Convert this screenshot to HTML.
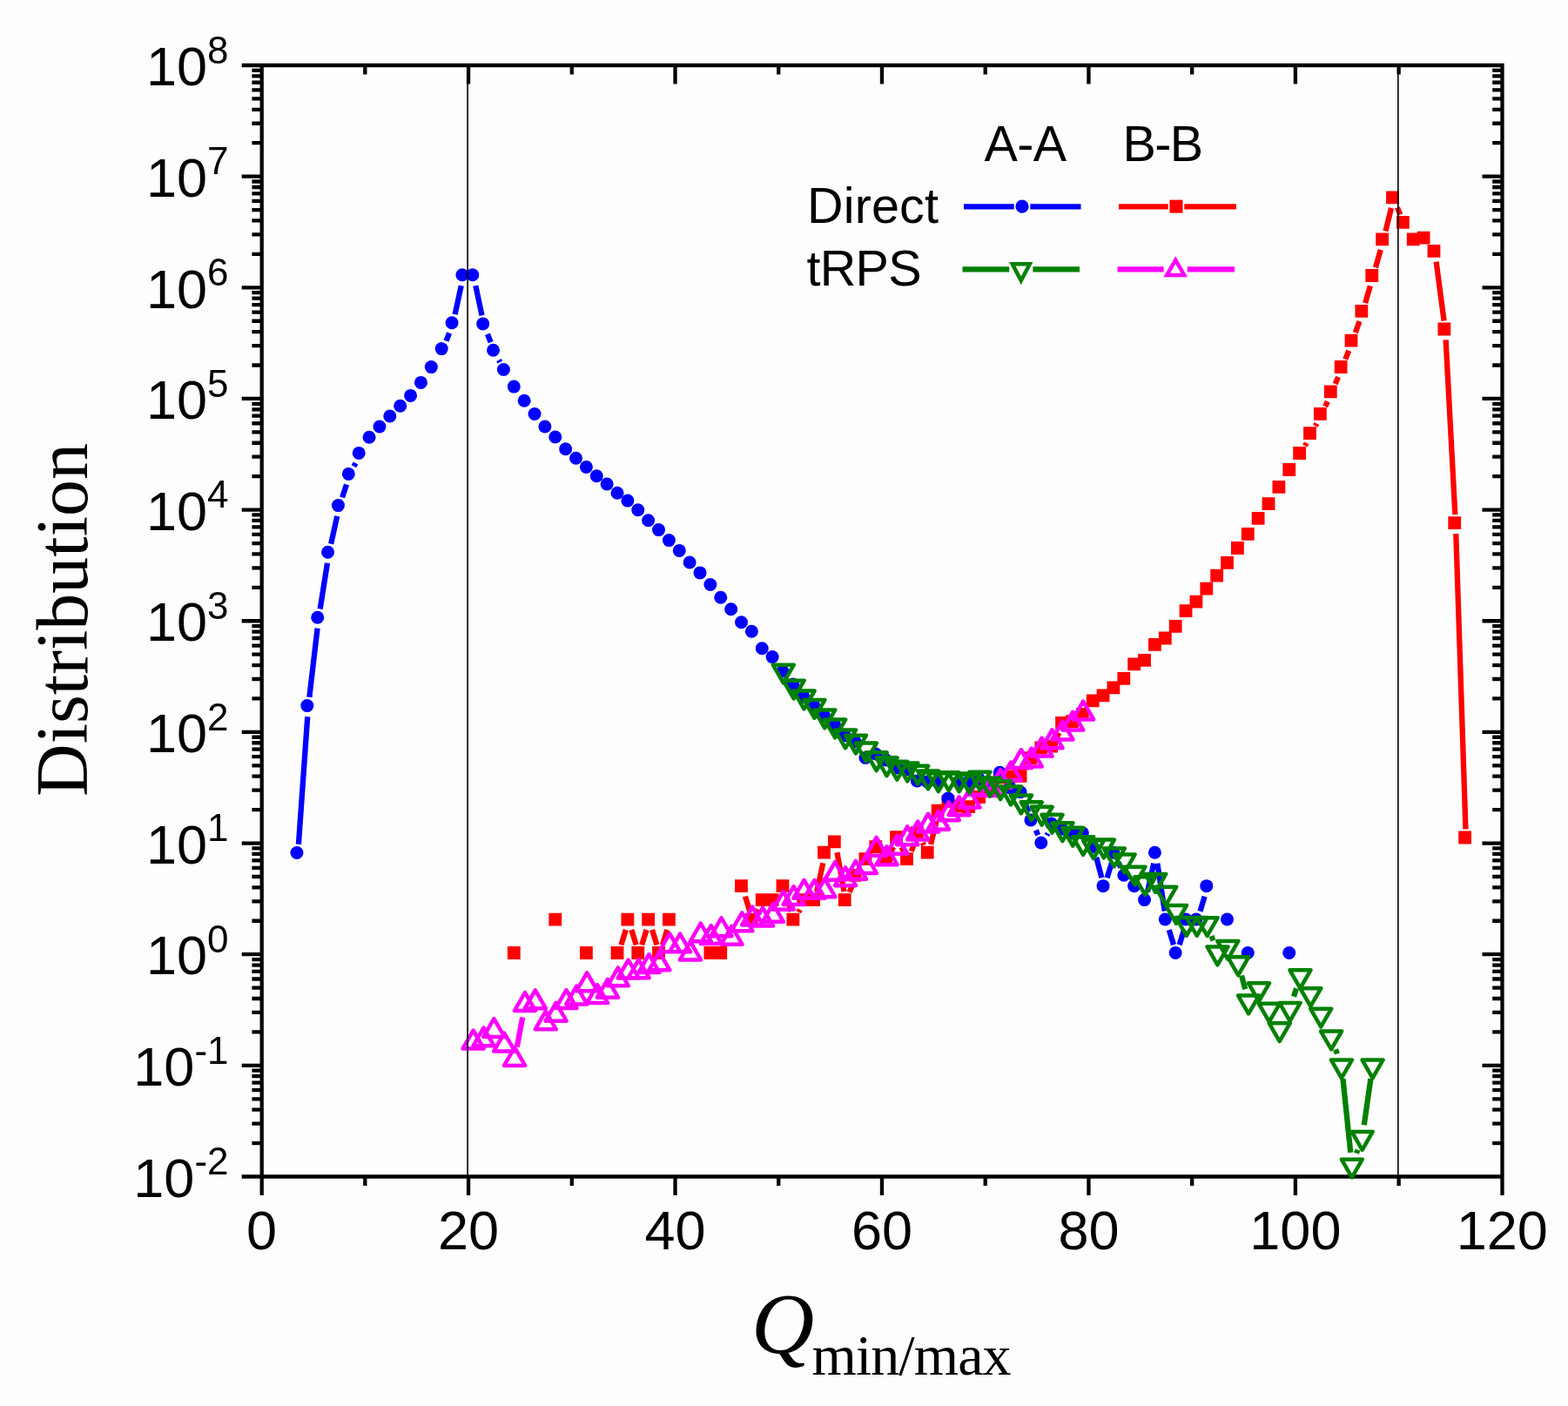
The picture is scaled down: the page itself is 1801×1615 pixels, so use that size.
<!DOCTYPE html>
<html lang="en"><head><meta charset="utf-8"><title>Distribution of Q min/max</title>
<style>html,body{margin:0;padding:0;background:#fdfdfd}body{width:1801px;height:1615px;overflow:hidden}svg{display:block}</style>
</head><body>
<svg width="1801" height="1615" viewBox="0 0 1801 1615" role="img" aria-label="Distribution versus Q min/max, log scale">
<rect width="1801" height="1615" fill="#fdfdfd"/>
<path d="M277.7 75H1727.65M277.7 1351.5H1727.65M300.7 72.85V1373M1725.5 72.85V1373M289.4 1313.07H300.7M1714.2 1313.07H1725.5M289.4 1290.6H300.7M1714.2 1290.6H1725.5M289.4 1274.65H300.7M1714.2 1274.65H1725.5M289.4 1262.28H300.7M1714.2 1262.28H1725.5M289.4 1252.17H300.7M1714.2 1252.17H1725.5M289.4 1243.62H300.7M1714.2 1243.62H1725.5M289.4 1236.22H300.7M1714.2 1236.22H1725.5M289.4 1229.69H300.7M1714.2 1229.69H1725.5M277.7 1223.85H300.7M1702.5 1223.85H1725.5M289.4 1185.42H300.7M1714.2 1185.42H1725.5M289.4 1162.95H300.7M1714.2 1162.95H1725.5M289.4 1147H300.7M1714.2 1147H1725.5M289.4 1134.63H300.7M1714.2 1134.63H1725.5M289.4 1124.52H300.7M1714.2 1124.52H1725.5M289.4 1115.97H300.7M1714.2 1115.97H1725.5M289.4 1108.57H300.7M1714.2 1108.57H1725.5M289.4 1102.04H300.7M1714.2 1102.04H1725.5M277.7 1096.2H300.7M1702.5 1096.2H1725.5M289.4 1057.77H300.7M1714.2 1057.77H1725.5M289.4 1035.3H300.7M1714.2 1035.3H1725.5M289.4 1019.35H300.7M1714.2 1019.35H1725.5M289.4 1006.98H300.7M1714.2 1006.98H1725.5M289.4 996.87H300.7M1714.2 996.87H1725.5M289.4 988.32H300.7M1714.2 988.32H1725.5M289.4 980.92H300.7M1714.2 980.92H1725.5M289.4 974.39H300.7M1714.2 974.39H1725.5M277.7 968.55H300.7M1702.5 968.55H1725.5M289.4 930.12H300.7M1714.2 930.12H1725.5M289.4 907.65H300.7M1714.2 907.65H1725.5M289.4 891.7H300.7M1714.2 891.7H1725.5M289.4 879.33H300.7M1714.2 879.33H1725.5M289.4 869.22H300.7M1714.2 869.22H1725.5M289.4 860.67H300.7M1714.2 860.67H1725.5M289.4 853.27H300.7M1714.2 853.27H1725.5M289.4 846.74H300.7M1714.2 846.74H1725.5M277.7 840.9H300.7M1702.5 840.9H1725.5M289.4 802.47H300.7M1714.2 802.47H1725.5M289.4 780H300.7M1714.2 780H1725.5M289.4 764.05H300.7M1714.2 764.05H1725.5M289.4 751.68H300.7M1714.2 751.68H1725.5M289.4 741.57H300.7M1714.2 741.57H1725.5M289.4 733.02H300.7M1714.2 733.02H1725.5M289.4 725.62H300.7M1714.2 725.62H1725.5M289.4 719.09H300.7M1714.2 719.09H1725.5M277.7 713.25H300.7M1702.5 713.25H1725.5M289.4 674.82H300.7M1714.2 674.82H1725.5M289.4 652.35H300.7M1714.2 652.35H1725.5M289.4 636.4H300.7M1714.2 636.4H1725.5M289.4 624.03H300.7M1714.2 624.03H1725.5M289.4 613.92H300.7M1714.2 613.92H1725.5M289.4 605.37H300.7M1714.2 605.37H1725.5M289.4 597.97H300.7M1714.2 597.97H1725.5M289.4 591.44H300.7M1714.2 591.44H1725.5M277.7 585.6H300.7M1702.5 585.6H1725.5M289.4 547.17H300.7M1714.2 547.17H1725.5M289.4 524.7H300.7M1714.2 524.7H1725.5M289.4 508.75H300.7M1714.2 508.75H1725.5M289.4 496.38H300.7M1714.2 496.38H1725.5M289.4 486.27H300.7M1714.2 486.27H1725.5M289.4 477.72H300.7M1714.2 477.72H1725.5M289.4 470.32H300.7M1714.2 470.32H1725.5M289.4 463.79H300.7M1714.2 463.79H1725.5M277.7 457.95H300.7M1702.5 457.95H1725.5M289.4 419.52H300.7M1714.2 419.52H1725.5M289.4 397.05H300.7M1714.2 397.05H1725.5M289.4 381.1H300.7M1714.2 381.1H1725.5M289.4 368.73H300.7M1714.2 368.73H1725.5M289.4 358.62H300.7M1714.2 358.62H1725.5M289.4 350.07H300.7M1714.2 350.07H1725.5M289.4 342.67H300.7M1714.2 342.67H1725.5M289.4 336.14H300.7M1714.2 336.14H1725.5M277.7 330.3H300.7M1702.5 330.3H1725.5M289.4 291.87H300.7M1714.2 291.87H1725.5M289.4 269.4H300.7M1714.2 269.4H1725.5M289.4 253.45H300.7M1714.2 253.45H1725.5M289.4 241.08H300.7M1714.2 241.08H1725.5M289.4 230.97H300.7M1714.2 230.97H1725.5M289.4 222.42H300.7M1714.2 222.42H1725.5M289.4 215.02H300.7M1714.2 215.02H1725.5M289.4 208.49H300.7M1714.2 208.49H1725.5M277.7 202.65H300.7M1702.5 202.65H1725.5M289.4 164.22H300.7M1714.2 164.22H1725.5M289.4 141.75H300.7M1714.2 141.75H1725.5M289.4 125.8H300.7M1714.2 125.8H1725.5M289.4 113.43H300.7M1714.2 113.43H1725.5M289.4 103.32H300.7M1714.2 103.32H1725.5M289.4 94.77H300.7M1714.2 94.77H1725.5M289.4 87.37H300.7M1714.2 87.37H1725.5M289.4 80.84H300.7M1714.2 80.84H1725.5M419.33 1351.5V1362M419.33 75V85.5M538.06 1351.5V1373M538.06 75V96.5M656.79 1351.5V1362M656.79 75V85.5M775.52 1351.5V1373M775.52 75V96.5M894.25 1351.5V1362M894.25 75V85.5M1012.98 1351.5V1373M1012.98 75V96.5M1131.71 1351.5V1362M1131.71 75V85.5M1250.44 1351.5V1373M1250.44 75V96.5M1369.17 1351.5V1362M1369.17 75V85.5M1487.9 1351.5V1373M1487.9 75V96.5M1606.63 1351.5V1362M1606.63 75V85.5" stroke="#000" stroke-width="4.3" fill="none"/>
<g font-family="'Liberation Sans', Arial, sans-serif" fill="#000">
<text x="262.5" y="1374.7" text-anchor="end" font-size="63">10<tspan dy="-25.5" font-size="44">-2</tspan></text>
<text x="262.5" y="1247.05" text-anchor="end" font-size="63">10<tspan dy="-25.5" font-size="44">-1</tspan></text>
<text x="262.5" y="1119.4" text-anchor="end" font-size="63">10<tspan dy="-25.5" font-size="44">0</tspan></text>
<text x="262.5" y="991.75" text-anchor="end" font-size="63">10<tspan dy="-25.5" font-size="44">1</tspan></text>
<text x="262.5" y="864.1" text-anchor="end" font-size="63">10<tspan dy="-25.5" font-size="44">2</tspan></text>
<text x="262.5" y="736.45" text-anchor="end" font-size="63">10<tspan dy="-25.5" font-size="44">3</tspan></text>
<text x="262.5" y="608.8" text-anchor="end" font-size="63">10<tspan dy="-25.5" font-size="44">4</tspan></text>
<text x="262.5" y="481.15" text-anchor="end" font-size="63">10<tspan dy="-25.5" font-size="44">5</tspan></text>
<text x="262.5" y="353.5" text-anchor="end" font-size="63">10<tspan dy="-25.5" font-size="44">6</tspan></text>
<text x="262.5" y="225.85" text-anchor="end" font-size="63">10<tspan dy="-25.5" font-size="44">7</tspan></text>
<text x="262.5" y="98.2" text-anchor="end" font-size="63">10<tspan dy="-25.5" font-size="44">8</tspan></text>
<text x="300.6" y="1435.3" text-anchor="middle" font-size="63">0</text>
<text x="538.06" y="1435.3" text-anchor="middle" font-size="63">20</text>
<text x="775.52" y="1435.3" text-anchor="middle" font-size="63">40</text>
<text x="1012.98" y="1435.3" text-anchor="middle" font-size="63">60</text>
<text x="1250.44" y="1435.3" text-anchor="middle" font-size="63">80</text>
<text x="1487.9" y="1435.3" text-anchor="middle" font-size="63">100</text>
<text x="1725.36" y="1435.3" text-anchor="middle" font-size="63">120</text>
<text x="1130.5" y="184.6" font-size="57.5" textLength="94.5" lengthAdjust="spacing">A-A</text>
<text x="1289.5" y="184.6" font-size="57.5" textLength="92.5" lengthAdjust="spacing">B-B</text>
<text x="927" y="256" font-size="57.5" textLength="151" lengthAdjust="spacing">Direct</text>
<text x="926.5" y="327.6" font-size="57.5" textLength="132" lengthAdjust="spacing">tRPS</text>
</g>
<g font-family="'Liberation Serif', 'Times New Roman', serif" fill="#000">
<text transform="translate(100 712) rotate(-90)" text-anchor="middle" font-size="84">Distribution</text>
<text x="863" y="1554" font-size="100" font-style="italic">Q</text>
<text x="932.5" y="1579" font-size="66" textLength="229" lengthAdjust="spacing">min/max</text>
</g>
<path d="M713.47 1085.39L718.84 1067.98M725.34 1067.98L730.72 1085.39M737.21 1085.39L742.59 1067.98M749.08 1067.98L754.46 1085.39M760.96 1085.39L766.34 1067.98M855.94 1029.56L861.32 1046.96M869.71 1047.75L871.3 1044.72M903.43 1029.56L908.81 1046.96M917.2 1047.75L918.79 1044.72M938.15 1024.25L945.33 991.37M961.48 979.08L969.5 1024.17M975.68 1024.85L979.04 1016.82M1023.63 978.08L1026.08 972.91M1035.5 972.91L1037.95 978.08M1046.72 977.8L1050.47 968.37M1059.67 967.87L1061.27 970.89M1069.05 969.94L1075.64 943.34M1178.72 883.25L1179.69 881.55M1213.33 848.54L1216.32 841.76M1498.92 512.14L1500.63 508.86M1510.88 489.39L1512.41 486.51M1522.21 466.82L1524.83 461.18M1533.71 441.06L1537.07 433.04M1545.33 412.65L1549.2 402.75M1556.85 382.12L1561.43 369.08M1568.15 348.14L1573.87 328.46M1579.96 307.32L1585.81 286.78M1591.46 265.52L1598.05 238.88M1604.91 238.36L1608.35 246.64M1649.63 300.7L1658.61 368.5M1660.64 390.38L1671.35 591.12M1672.29 613.09L1683.44 952.41" stroke="#ff0000" stroke-width="6.3" fill="none"/>
<path fill="#ff0000" d="M582.89 1087.1h14.8v14.8h-14.8zM630.38 1048.67h14.8v14.8h-14.8zM666 1087.1h14.8v14.8h-14.8zM701.62 1087.1h14.8v14.8h-14.8zM713.49 1048.67h14.8v14.8h-14.8zM725.36 1087.1h14.8v14.8h-14.8zM737.24 1048.67h14.8v14.8h-14.8zM749.11 1087.1h14.8v14.8h-14.8zM760.98 1048.67h14.8v14.8h-14.8zM808.48 1087.1h14.8v14.8h-14.8zM820.35 1087.1h14.8v14.8h-14.8zM844.09 1010.25h14.8v14.8h-14.8zM855.97 1048.67h14.8v14.8h-14.8zM867.84 1026.2h14.8v14.8h-14.8zM879.71 1026.2h14.8v14.8h-14.8zM891.59 1010.25h14.8v14.8h-14.8zM903.46 1048.67h14.8v14.8h-14.8zM915.33 1026.2h14.8v14.8h-14.8zM927.21 1026.2h14.8v14.8h-14.8zM939.08 971.82h14.8v14.8h-14.8zM950.95 959.45h14.8v14.8h-14.8zM962.82 1026.2h14.8v14.8h-14.8zM974.7 997.88h14.8v14.8h-14.8zM986.57 979.22h14.8v14.8h-14.8zM998.44 965.29h14.8v14.8h-14.8zM1010.32 979.22h14.8v14.8h-14.8zM1022.19 954.17h14.8v14.8h-14.8zM1034.06 979.22h14.8v14.8h-14.8zM1045.94 949.34h14.8v14.8h-14.8zM1057.81 971.82h14.8v14.8h-14.8zM1069.68 923.87h14.8v14.8h-14.8zM1081.55 913h14.8v14.8h-14.8zM1093.43 918.6h14.8v14.8h-14.8zM1105.3 919.2h14.8v14.8h-14.8zM1117.17 908.1h14.8v14.8h-14.8zM1129.05 897.6h14.8v14.8h-14.8zM1140.92 885.6h14.8v14.8h-14.8zM1152.79 884.6h14.8v14.8h-14.8zM1164.67 884h14.8v14.8h-14.8zM1176.54 863.2h14.8v14.8h-14.8zM1188.41 851.4h14.8v14.8h-14.8zM1200.28 849.8h14.8v14.8h-14.8zM1212.16 822.9h14.8v14.8h-14.8zM1224.03 821.3h14.8v14.8h-14.8zM1235.9 813.1h14.8v14.8h-14.8zM1247.78 797.4h14.8v14.8h-14.8zM1259.65 791.4h14.8v14.8h-14.8zM1271.52 782.5h14.8v14.8h-14.8zM1283.4 772h14.8v14.8h-14.8zM1295.27 755.5h14.8v14.8h-14.8zM1307.14 751h14.8v14.8h-14.8zM1319.01 733h14.8v14.8h-14.8zM1330.89 725.6h14.8v14.8h-14.8zM1342.76 712h14.8v14.8h-14.8zM1354.63 694.2h14.8v14.8h-14.8zM1366.51 683.7h14.8v14.8h-14.8zM1378.38 668.7h14.8v14.8h-14.8zM1390.25 653.8h14.8v14.8h-14.8zM1402.13 638.9h14.8v14.8h-14.8zM1414 622.1h14.8v14.8h-14.8zM1425.87 605.9h14.8v14.8h-14.8zM1437.74 588h14.8v14.8h-14.8zM1449.62 571.3h14.8v14.8h-14.8zM1461.49 551.9h14.8v14.8h-14.8zM1473.36 532.1h14.8v14.8h-14.8zM1485.24 513.1h14.8v14.8h-14.8zM1497.11 490.3h14.8v14.8h-14.8zM1508.98 468h14.8v14.8h-14.8zM1520.86 442.4h14.8v14.8h-14.8zM1532.73 414.1h14.8v14.8h-14.8zM1544.6 383.7h14.8v14.8h-14.8zM1556.47 349.9h14.8v14.8h-14.8zM1568.35 309.1h14.8v14.8h-14.8zM1580.22 267.4h14.8v14.8h-14.8zM1592.09 219.4h14.8v14.8h-14.8zM1603.97 248h14.8v14.8h-14.8zM1615.84 267.4h14.8v14.8h-14.8zM1627.71 265.8h14.8v14.8h-14.8zM1639.59 281h14.8v14.8h-14.8zM1651.46 370.6h14.8v14.8h-14.8zM1663.33 593.3h14.8v14.8h-14.8zM1675.2 954.6h14.8v14.8h-14.8z"/>
<path d="M342.94 969.73L353.24 823.17M355.33 800.88L364.6 721.72M367.66 699.54L376.02 646.76M380.19 624.76L387.23 592.94M393.14 571.36L398.03 556.44M406.49 535.76L408.43 531.84M512.51 391.59L516.12 382.51M522.61 361.15L529.76 328.05M546.31 328.06L553.55 362.34M559.96 383.73L563.66 393.17M573.01 413.49L574.35 416.01M1177.14 921.71L1181.26 932.89M1189.79 953.59L1192.36 959.21M1202.33 959.54L1203.57 957.26M1259.24 984.92L1265.39 1008.22M1271.56 1008.35L1276.82 991.32M1284.77 990.81L1287.35 996.48M1318.13 1024.05L1325.23 991.56M1329.32 991.69L1337.78 1046.4M1342.79 1068.17L1348.05 1085.2M1354.67 1085.2L1359.93 1068.17M1378.41 1046.77L1383.67 1029.75" stroke="#0000ff" stroke-width="6.3" fill="none"/>
<g fill="#0000ff"><circle cx="340.96" cy="979.5" r="7.5"/><circle cx="352.83" cy="810.6" r="7.5"/><circle cx="364.7" cy="709.2" r="7.5"/><circle cx="376.57" cy="634.3" r="7.5"/><circle cx="388.45" cy="580.6" r="7.5"/><circle cx="400.32" cy="544.4" r="7.5"/><circle cx="412.19" cy="520.4" r="7.5"/><circle cx="424.07" cy="502.3" r="7.5"/><circle cx="435.94" cy="490" r="7.5"/><circle cx="447.81" cy="478" r="7.5"/><circle cx="459.69" cy="466.2" r="7.5"/><circle cx="471.56" cy="454.4" r="7.5"/><circle cx="483.43" cy="439.4" r="7.5"/><circle cx="495.3" cy="421.6" r="7.5"/><circle cx="507.18" cy="400.6" r="7.5"/><circle cx="519.05" cy="370.7" r="7.5"/><circle cx="530.92" cy="315.7" r="7.5"/><circle cx="542.8" cy="315.7" r="7.5"/><circle cx="554.67" cy="371.9" r="7.5"/><circle cx="566.54" cy="402.2" r="7.5"/><circle cx="578.42" cy="424.5" r="7.5"/><circle cx="590.29" cy="444.1" r="7.5"/><circle cx="602.16" cy="460.2" r="7.5"/><circle cx="614.03" cy="475.5" r="7.5"/><circle cx="625.91" cy="490" r="7.5"/><circle cx="637.78" cy="502" r="7.5"/><circle cx="649.65" cy="515.7" r="7.5"/><circle cx="661.53" cy="526.2" r="7.5"/><circle cx="673.4" cy="536.4" r="7.5"/><circle cx="685.27" cy="546.8" r="7.5"/><circle cx="697.15" cy="556" r="7.5"/><circle cx="709.02" cy="566.2" r="7.5"/><circle cx="720.89" cy="575.1" r="7.5"/><circle cx="732.76" cy="585.8" r="7.5"/><circle cx="744.64" cy="597.7" r="7.5"/><circle cx="756.51" cy="608.6" r="7.5"/><circle cx="768.38" cy="620.6" r="7.5"/><circle cx="780.26" cy="632.4" r="7.5"/><circle cx="792.13" cy="646" r="7.5"/><circle cx="804" cy="657.9" r="7.5"/><circle cx="815.88" cy="671.5" r="7.5"/><circle cx="827.75" cy="686.2" r="7.5"/><circle cx="839.62" cy="699.8" r="7.5"/><circle cx="851.49" cy="714.7" r="7.5"/><circle cx="863.37" cy="725.2" r="7.5"/><circle cx="875.24" cy="744.8" r="7.5"/><circle cx="887.11" cy="754.6" r="7.5"/><circle cx="898.99" cy="771" r="7.5"/><circle cx="910.86" cy="786" r="7.5"/><circle cx="922.73" cy="800" r="7.5"/><circle cx="934.61" cy="810" r="7.5"/><circle cx="946.48" cy="822" r="7.5"/><circle cx="958.35" cy="832" r="7.5"/><circle cx="970.22" cy="845" r="7.5"/><circle cx="982.1" cy="852" r="7.5"/><circle cx="993.97" cy="870.5" r="7.5"/><circle cx="1005.84" cy="866" r="7.5"/><circle cx="1017.72" cy="873" r="7.5"/><circle cx="1029.59" cy="882" r="7.5"/><circle cx="1041.46" cy="884" r="7.5"/><circle cx="1053.34" cy="897" r="7.5"/><circle cx="1065.21" cy="898" r="7.5"/><circle cx="1077.08" cy="898" r="7.5"/><circle cx="1088.95" cy="917" r="7.5"/><circle cx="1100.83" cy="898" r="7.5"/><circle cx="1112.7" cy="898" r="7.5"/><circle cx="1124.57" cy="895" r="7.5"/><circle cx="1136.45" cy="900" r="7.5"/><circle cx="1148.32" cy="887.2" r="7.5"/><circle cx="1160.19" cy="905" r="7.5"/><circle cx="1172.07" cy="909.8" r="7.5"/><circle cx="1183.94" cy="942" r="7.5"/><circle cx="1195.81" cy="968" r="7.5"/><circle cx="1207.68" cy="946" r="7.5"/><circle cx="1219.56" cy="952.31" r="7.5"/><circle cx="1231.43" cy="956.74" r="7.5"/><circle cx="1243.3" cy="956.74" r="7.5"/><circle cx="1255.18" cy="972.69" r="7.5"/><circle cx="1267.05" cy="1017.65" r="7.5"/><circle cx="1278.92" cy="979.22" r="7.5"/><circle cx="1290.8" cy="1005.28" r="7.5"/><circle cx="1302.67" cy="1017.65" r="7.5"/><circle cx="1314.54" cy="1033.6" r="7.5"/><circle cx="1326.41" cy="979.22" r="7.5"/><circle cx="1338.29" cy="1056.07" r="7.5"/><circle cx="1350.16" cy="1094.5" r="7.5"/><circle cx="1362.03" cy="1056.07" r="7.5"/><circle cx="1373.91" cy="1056.07" r="7.5"/><circle cx="1385.78" cy="1017.65" r="7.5"/><circle cx="1409.53" cy="1056.07" r="7.5"/><circle cx="1433.27" cy="1094.5" r="7.5"/><circle cx="1480.76" cy="1094.5" r="7.5"/></g>
<path d="M593.83 1202.46L600.22 1168.54" stroke="#ff00ff" stroke-width="6.3" fill="none"/>
<path fill="none" stroke="#ff00ff" stroke-width="4.5" stroke-linejoin="round" d="M543.6 1183.64L555.6 1204.43L531.6 1204.43ZM555.47 1180.54L567.47 1201.33L543.47 1201.33ZM567.34 1170.14L579.34 1190.93L555.34 1190.93ZM579.22 1186.64L591.22 1207.43L567.22 1207.43ZM591.09 1203.14L603.09 1223.93L579.09 1223.93ZM602.96 1140.14L614.96 1160.93L590.96 1160.93ZM614.83 1137.34L626.83 1158.13L602.83 1158.13ZM626.71 1161.54L638.71 1182.33L614.71 1182.33ZM638.58 1151.84L650.58 1172.63L626.58 1172.63ZM650.45 1137.14L662.45 1157.93L638.45 1157.93ZM662.33 1132.64L674.33 1153.43L650.33 1153.43ZM674.2 1117.44L686.2 1138.23L662.2 1138.23ZM686.07 1131.24L698.07 1152.03L674.07 1152.03ZM697.95 1124.94L709.95 1145.73L685.95 1145.73ZM709.82 1111.54L721.82 1132.33L697.82 1132.33ZM721.69 1102.64L733.69 1123.43L709.69 1123.43ZM733.56 1102.44L745.56 1123.23L721.56 1123.23ZM745.44 1096.24L757.44 1117.03L733.44 1117.03ZM757.31 1093.54L769.31 1114.33L745.31 1114.33ZM769.18 1072.34L781.18 1093.13L757.18 1093.13ZM781.06 1072.54L793.06 1093.33L769.06 1093.33ZM792.93 1081.64L804.93 1102.43L780.93 1102.43ZM804.8 1060.54L816.8 1081.33L792.8 1081.33ZM816.68 1063.14L828.68 1083.93L804.68 1083.93ZM828.55 1054.34L840.55 1075.13L816.55 1075.13ZM840.42 1063.94L852.42 1084.73L828.42 1084.73ZM852.29 1048.44L864.29 1069.23L840.29 1069.23ZM864.17 1041.64L876.17 1062.43L852.17 1062.43ZM876.04 1042.74L888.04 1063.53L864.04 1063.53ZM887.91 1038.04L899.91 1058.83L875.91 1058.83ZM899.79 1023.84L911.79 1044.63L887.79 1044.63ZM911.66 1018.24L923.66 1039.03L899.66 1039.03ZM923.53 1010.94L935.53 1031.73L911.53 1031.73ZM935.41 1011.04L947.41 1031.83L923.41 1031.83ZM947.28 1009.44L959.28 1030.23L935.28 1030.23ZM959.15 990.04L971.15 1010.83L947.15 1010.83ZM971.02 996.34L983.02 1017.13L959.02 1017.13ZM982.9 988.94L994.9 1009.73L970.9 1009.73ZM994.77 982.14L1006.77 1002.93L982.77 1002.93ZM1006.64 961.84L1018.64 982.63L994.64 982.63ZM1018.52 972.34L1030.52 993.13L1006.52 993.13ZM1030.39 959.84L1042.39 980.63L1018.39 980.63ZM1042.26 949.44L1054.26 970.23L1030.26 970.23ZM1054.14 943.64L1066.14 964.43L1042.14 964.43ZM1066.01 934.74L1078.01 955.53L1054.01 955.53ZM1077.88 931.84L1089.88 952.63L1065.88 952.63ZM1089.75 921.34L1101.75 942.13L1077.75 942.13ZM1101.63 915.44L1113.63 936.23L1089.63 936.23ZM1113.5 906.74L1125.5 927.53L1101.5 927.53ZM1125.37 892.14L1137.37 912.93L1113.37 912.93ZM1137.25 893.14L1149.25 913.93L1125.25 913.93ZM1149.12 884.14L1161.12 904.93L1137.12 904.93ZM1160.99 875.54L1172.99 896.33L1148.99 896.33ZM1172.87 861.24L1184.87 882.03L1160.87 882.03ZM1184.74 859.64L1196.74 880.43L1172.74 880.43ZM1196.61 847.74L1208.61 868.53L1184.61 868.53ZM1208.48 838.44L1220.48 859.23L1196.48 859.23ZM1220.36 828.64L1232.36 849.43L1208.36 849.43ZM1232.23 817.74L1244.23 838.53L1220.23 838.53ZM1244.1 805.64L1256.1 826.43L1232.1 826.43Z"/>
<path d="M1391.55 1075.04L1393.48 1080.46M1426.03 1120.5L1430.24 1136.2M1486.01 1144.78L1488.99 1135.32M1534.08 1205.42L1535.9 1210.48M1542.46 1239.12L1551.27 1323.88M1557.99 1324.74L1559.48 1320.76M1566.78 1292.25L1574.44 1239.05" stroke="#008000" stroke-width="6.3" fill="none"/>
<path fill="none" stroke="#008000" stroke-width="4.5" stroke-linejoin="round" d="M899.79 784.46L911.79 763.67L887.79 763.67ZM911.66 802.46L923.66 781.67L899.66 781.67ZM923.53 814.36L935.53 793.57L911.53 793.57ZM935.41 824.76L947.41 803.97L923.41 803.97ZM947.28 836.26L959.28 815.47L935.28 815.47ZM959.15 847.36L971.15 826.57L947.15 826.57ZM971.02 859.26L983.02 838.47L959.02 838.47ZM982.9 865.46L994.9 844.67L970.9 844.67ZM994.77 874.36L1006.77 853.57L982.77 853.57ZM1006.64 885.16L1018.64 864.37L994.64 864.37ZM1018.52 891.16L1030.52 870.37L1006.52 870.37ZM1030.39 895.66L1042.39 874.87L1018.39 874.87ZM1042.26 897.26L1054.26 876.47L1030.26 876.47ZM1054.14 900.66L1066.14 879.87L1042.14 879.87ZM1066.01 906.26L1078.01 885.47L1054.01 885.47ZM1077.88 909.06L1089.88 888.27L1065.88 888.27ZM1089.75 908.16L1101.75 887.37L1077.75 887.37ZM1101.63 909.26L1113.63 888.47L1089.63 888.47ZM1113.5 910.86L1125.5 890.07L1101.5 890.07ZM1125.37 907.46L1137.37 886.67L1113.37 886.67ZM1137.25 914.66L1149.25 893.87L1125.25 893.87ZM1149.12 918.16L1161.12 897.37L1137.12 897.37ZM1160.99 924.26L1172.99 903.47L1148.99 903.47ZM1172.87 934.36L1184.87 913.57L1160.87 913.57ZM1184.74 942.16L1196.74 921.37L1172.74 921.37ZM1196.61 947.66L1208.61 926.87L1184.61 926.87ZM1208.48 956.66L1220.48 935.87L1196.48 935.87ZM1220.36 966.06L1232.36 945.27L1208.36 945.27ZM1232.23 971.66L1244.23 950.87L1220.23 950.87ZM1244.1 981.96L1256.1 961.17L1232.1 961.17ZM1255.98 986.16L1267.98 965.37L1243.98 965.37ZM1267.85 985.36L1279.85 964.57L1255.85 964.57ZM1279.72 995.36L1291.72 974.57L1267.72 974.57ZM1291.6 1002.26L1303.6 981.47L1279.6 981.47ZM1303.47 1016.46L1315.47 995.67L1291.47 995.67ZM1315.34 1027.96L1327.34 1007.17L1303.34 1007.17ZM1327.21 1024.76L1339.21 1003.97L1315.21 1003.97ZM1339.09 1039.56L1351.09 1018.77L1327.09 1018.77ZM1350.96 1060.76L1362.96 1039.97L1338.96 1039.97ZM1362.83 1074.76L1374.83 1053.97L1350.83 1053.97ZM1374.71 1074.76L1386.71 1053.97L1362.71 1053.97ZM1386.58 1074.96L1398.58 1054.17L1374.58 1054.17ZM1398.45 1108.26L1410.45 1087.47L1386.45 1087.47ZM1410.33 1101.76L1422.33 1080.97L1398.33 1080.97ZM1422.2 1120.06L1434.2 1099.27L1410.2 1099.27ZM1434.07 1164.36L1446.07 1143.57L1422.07 1143.57ZM1445.94 1150.16L1457.94 1129.37L1433.94 1129.37ZM1457.82 1173.56L1469.82 1152.77L1445.82 1152.77ZM1469.69 1196.16L1481.69 1175.37L1457.69 1175.37ZM1481.56 1172.76L1493.56 1151.97L1469.56 1151.97ZM1493.44 1135.06L1505.44 1114.27L1481.44 1114.27ZM1505.31 1155.96L1517.31 1135.17L1493.31 1135.17ZM1517.18 1179.46L1529.18 1158.67L1505.18 1158.67ZM1529.06 1205.36L1541.06 1184.57L1517.06 1184.57ZM1540.93 1238.26L1552.93 1217.47L1528.93 1217.47ZM1552.8 1352.46L1564.8 1331.67L1540.8 1331.67ZM1564.67 1320.76L1576.67 1299.97L1552.67 1299.97ZM1576.55 1238.26L1588.55 1217.47L1564.55 1217.47Z"/>
<path d="M537.1 75V1351.5M1605.85 75V1351.5" stroke="#000" stroke-width="1.6" fill="none"/>
<path d="M1107 237.3H1164.7M1183.3 237.3H1241.5" stroke="#0000ff" stroke-width="6.3" fill="none"/>
<circle cx="1174" cy="237.2" r="7.6" fill="#0000ff"/>
<path d="M1285 237.3H1341.7M1360.3 237.3H1420" stroke="#ff0000" stroke-width="6.3" fill="none"/>
<rect x="1343.5" y="229.6" width="15" height="15" fill="#ff0000"/>
<path d="M1105.5 309.3H1159.2M1186.4 309.3H1240" stroke="#008000" stroke-width="6.3" fill="none"/>
<path fill="none" stroke="#008000" stroke-width="4.5" d="M1172.8 322.3L1182.8 303.25L1162.8 303.25Z"/>
<path d="M1283.5 309.3H1336.6M1363.8 309.3H1418" stroke="#ff00ff" stroke-width="6.3" fill="none"/>
<path fill="none" stroke="#ff00ff" stroke-width="4.5" d="M1350.2 298.65L1360.2 315.97L1340.2 315.97Z"/>
</svg>
</body></html>
